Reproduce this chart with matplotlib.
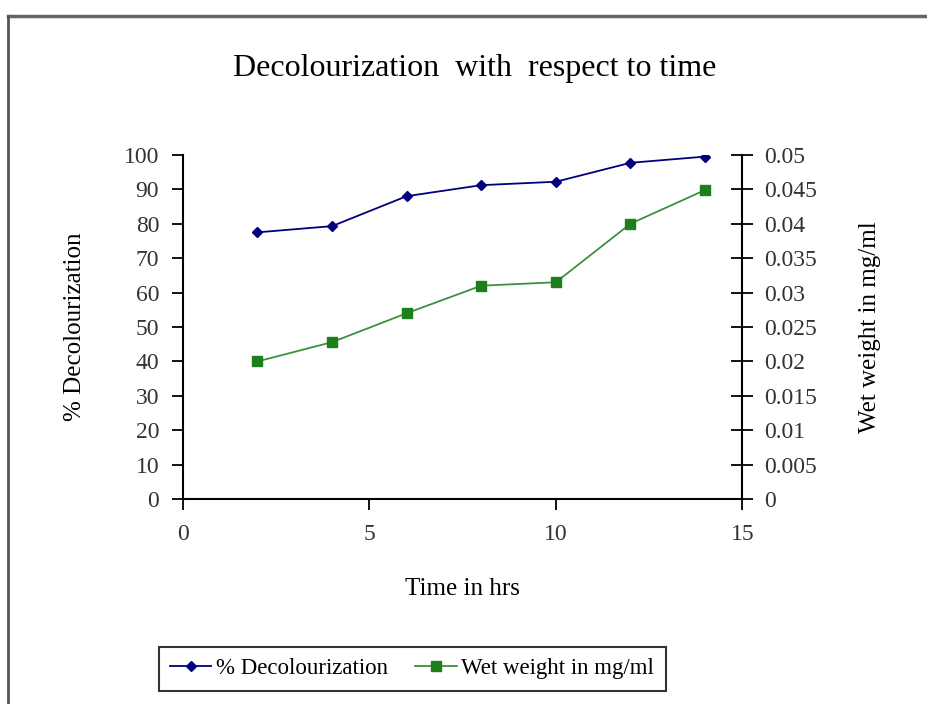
import matplotlib.pyplot as plt
from matplotlib.lines import Line2D

plt.rcParams['font.family'] = ['Liberation Serif', 'DejaVu Serif']

# Data
time_hrs = [2, 4, 6, 8, 10, 12, 14]
decolourization = [77.5, 79.3, 88.0, 91.2, 92.2, 97.7, 99.5]
wet_weight = [0.020, 0.0228, 0.027, 0.031, 0.0315, 0.040, 0.0449]

x_ticks = [0, 5, 10, 15]
left_ticks = list(range(0, 101, 10))
right_ticks = [0, 0.005, 0.01, 0.015, 0.02, 0.025, 0.03, 0.035, 0.04, 0.045, 0.05]
right_labels = ['0', '0.005', '0.01', '0.015', '0.02', '0.025', '0.03',
                '0.035', '0.04', '0.045', '0.05']

font_size = 18
tick_font_size = 17

fig = plt.figure(figsize=(9.28, 7.04), dpi=100)
ax = fig.add_axes([0.197, 0.291, 0.603, 0.489])
ax2 = ax.twinx()

l1, = ax.plot(time_hrs, decolourization, color='#000080', marker='D',
              markersize=5, linewidth=1.3, label='% Decolourization')
l2, = ax2.plot(time_hrs, wet_weight, color='#3f8f3f', marker='s',
               markersize=7, markerfacecolor='#1b7f1b', markeredgecolor='#1b7f1b',
               linewidth=1.3, label='Wet weight in mg/ml')

ax.set_xlim(0, 15)
ax.set_ylim(0, 100)
ax2.set_ylim(0, 0.05)
ax.set_xticks(x_ticks)
ax.set_yticks(left_ticks)
ax2.set_yticks(right_ticks)
ax2.set_yticklabels(right_labels)

for a in (ax, ax2):
    a.spines['top'].set_visible(False)
    for s in a.spines.values():
        s.set_linewidth(1.5)
ax.spines['right'].set_visible(False)
ax2.spines['left'].set_visible(False)
ax2.spines['bottom'].set_visible(False)

ax.tick_params(axis='both', direction='out', length=8, width=1.3,
               labelsize=tick_font_size, colors='black', labelcolor='#333333')
ax.tick_params(axis='y', pad=9)
ax.tick_params(axis='x', pad=10)
ax2.tick_params(axis='y', direction='inout', length=16, width=1.3,
                labelsize=tick_font_size, labelcolor='#333333', pad=8)

ax.set_xlabel('Time in hrs', fontsize=font_size, labelpad=24)
ax.set_ylabel('% Decolourization', fontsize=font_size, labelpad=27)
ax2.set_ylabel('Wet weight in mg/ml', fontsize=font_size, labelpad=30)

fig.text(0.511, 0.903, 'Decolourization  with  respect to time',
         fontsize=23, ha='center', va='center')

leg = fig.legend(handles=[l1, l2], loc='center', bbox_to_anchor=(0.444, 0.05),
                 ncol=2, fontsize=16.5, frameon=True, fancybox=False,
                 edgecolor='black', handlelength=1.8, columnspacing=1.2,
                 handletextpad=0.2, borderpad=0.5)
leg.get_frame().set_linewidth(1.5)

# screenshot frame edges
fig.add_artist(Line2D([0.009, 1.0], [0.977, 0.977], color='#666666', linewidth=2.5))
fig.add_artist(Line2D([0.009, 0.009], [0.0, 0.977], color='#555555', linewidth=2))

fig.savefig('out.png', dpi=100)
